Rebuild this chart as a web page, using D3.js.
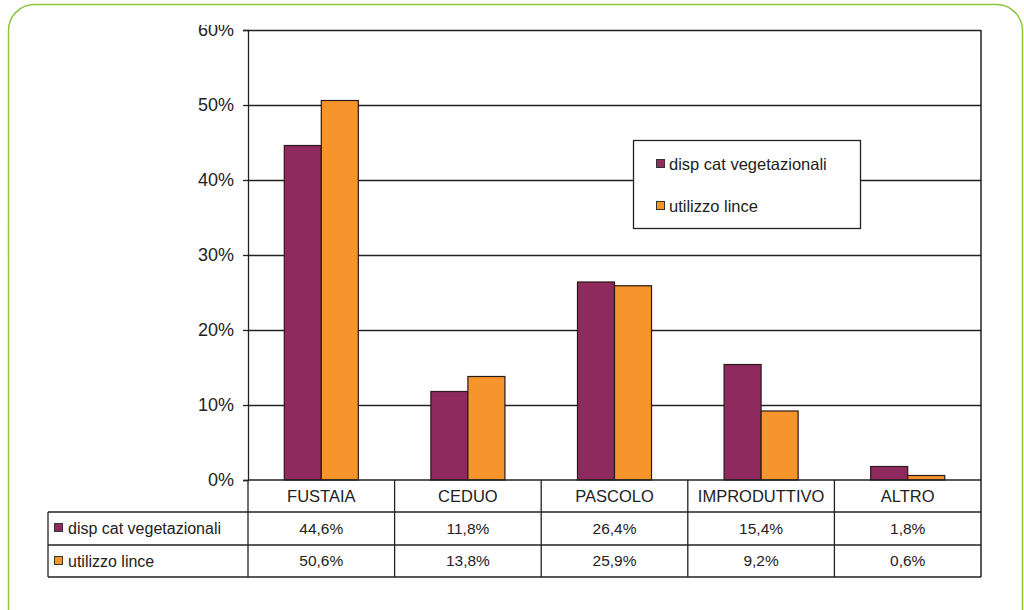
<!DOCTYPE html>
<html><head><meta charset="utf-8">
<script src="https://cdn.jsdelivr.net/npm/d3@7"></script>
<style>body{margin:0;background:#fff}svg{display:block;font-family:"Liberation Sans",Arial,sans-serif}</style>
</head><body><svg id="c" width="1024" height="610"></svg>
<script>
const categories = ["FUSTAIA","CEDUO","PASCOLO","IMPRODUTTIVO","ALTRO"];
const seriesNames = ["disp cat vegetazionali","utilizzo lince"];
const dispValues = [44.6, 11.8, 26.4, 15.4, 1.8];
const linceValues = [50.6, 13.8, 25.9, 9.2, 0.6];
const dispLabels = ["44,6%","11,8%","26,4%","15,4%","1,8%"];
const linceLabels = ["50,6%","13,8%","25,9%","9,2%","0,6%"];
const yTicks = [0,10,20,30,40,50,60];
const colors = ["#8f2a5e","#f5952b"];

const svg = d3.select("#c");
// green frame
svg.append("rect").attr("x",8.5).attr("y",4.5).attr("width",1014).attr("height",640)
  .attr("rx",26).attr("fill","none").attr("stroke","#8cc63f").attr("stroke-width",1.5);

const L=248, R=981, T=30, B=480;
const x = d3.scaleBand().domain(categories).range([L,R]).paddingInner(0).paddingOuter(0);
const xi = d3.scaleBand().domain([0,1]).range([0,x.bandwidth()]).paddingOuter(0.98).paddingInner(0);
const y = d3.scaleLinear().domain([0,60]).range([B,T]);

// gridlines
svg.append("g").selectAll("line").data(yTicks.filter(d=>d>0)).join("line")
  .attr("x1",L).attr("x2",R).attr("y1",d=>Math.round(y(d))+0.5).attr("y2",d=>Math.round(y(d))+0.5)
  .attr("stroke","#222").attr("stroke-width",1.3);

// y axis
svg.append("clipPath").attr("id","clipY").append("rect").attr("x",-300).attr("y",25).attr("width",400).attr("height",600);
const yAxis = svg.append("g").attr("transform",`translate(${L},0)`).attr("clip-path","url(#clipY)")
  .call(d3.axisLeft(y).tickValues(yTicks).tickFormat(d=>d+"%").tickSize(5).tickPadding(9));
yAxis.select(".domain").attr("stroke","#222").attr("stroke-width",1.3);
yAxis.selectAll(".tick line").attr("stroke","#222").attr("stroke-width",1.3);
yAxis.selectAll(".tick text").attr("font-size",18).attr("fill","#222").attr("font-family","Liberation Sans, Arial, sans-serif");

// right border
svg.append("line").attr("x1",R).attr("x2",R).attr("y1",T).attr("y2",577).attr("stroke","#222").attr("stroke-width",1.5);

// bars
const series = [dispValues, linceValues];
series.forEach((vals,si)=>{
  svg.append("g").selectAll("rect").data(vals).join("rect")
    .attr("x",(d,i)=>x(categories[i])+xi(si))
    .attr("y",d=>y(d))
    .attr("width",xi.bandwidth())
    .attr("height",d=>B-y(d))
    .attr("fill",colors[si]).attr("stroke","#2a1a1a").attr("stroke-width",1.2);
});

// baseline
svg.append("line").attr("x1",L).attr("x2",R).attr("y1",B).attr("y2",B).attr("stroke","#222").attr("stroke-width",1.5);

// table
const tbl = svg.append("g").attr("stroke","#222").attr("stroke-width",1.3);
tbl.append("line").attr("x1",48).attr("x2",R).attr("y1",512).attr("y2",512);
tbl.append("line").attr("x1",48).attr("x2",R).attr("y1",545).attr("y2",545);
tbl.append("line").attr("x1",48).attr("x2",R).attr("y1",577).attr("y2",577);
tbl.append("line").attr("x1",48).attr("x2",48).attr("y1",512).attr("y2",577);
tbl.selectAll("line.v").data(categories).join("line").attr("class","v")
  .attr("x1",d=>x(d)).attr("x2",d=>x(d)).attr("y1",480).attr("y2",577);

const tt = svg.append("g").attr("fill","#222").attr("text-anchor","middle");
tt.selectAll("text.h").data(categories).join("text").attr("class","h").attr("font-size",16.5)
  .attr("x",d=>x(d)+x.bandwidth()/2).attr("y",502).text(d=>d);
tt.selectAll("text.r1").data(dispLabels).join("text").attr("class","r1").attr("font-size",15.5)
  .attr("x",(d,i)=>x(categories[i])+x.bandwidth()/2).attr("y",534).text(d=>d);
tt.selectAll("text.r2").data(linceLabels).join("text").attr("class","r2").attr("font-size",15.5)
  .attr("x",(d,i)=>x(categories[i])+x.bandwidth()/2).attr("y",566).text(d=>d);

// table row legend
seriesNames.forEach((n,i)=>{
  const cy = i===0?528:561;
  svg.append("rect").attr("x",54.5).attr("y",cy-4.5).attr("width",8).attr("height",8)
    .attr("fill",colors[i]).attr("stroke","#333").attr("stroke-width",1);
  svg.append("text").attr("x",68).attr("y",cy+6).attr("font-size",16).attr("fill","#222").text(n);
});

// legend box
svg.append("rect").attr("x",633.5).attr("y",140.5).attr("width",227).attr("height",88)
  .attr("fill","#fff").attr("stroke","#222").attr("stroke-width",1.3);
seriesNames.forEach((n,i)=>{
  const cy = i===0?164:206;
  svg.append("rect").attr("x",656.5).attr("y",cy-4.5).attr("width",8).attr("height",8)
    .attr("fill",colors[i]).attr("stroke","#333").attr("stroke-width",1);
  svg.append("text").attr("x",669).attr("y",cy+6).attr("font-size",16.5).attr("fill","#222").text(n);
});
</script></body></html>
